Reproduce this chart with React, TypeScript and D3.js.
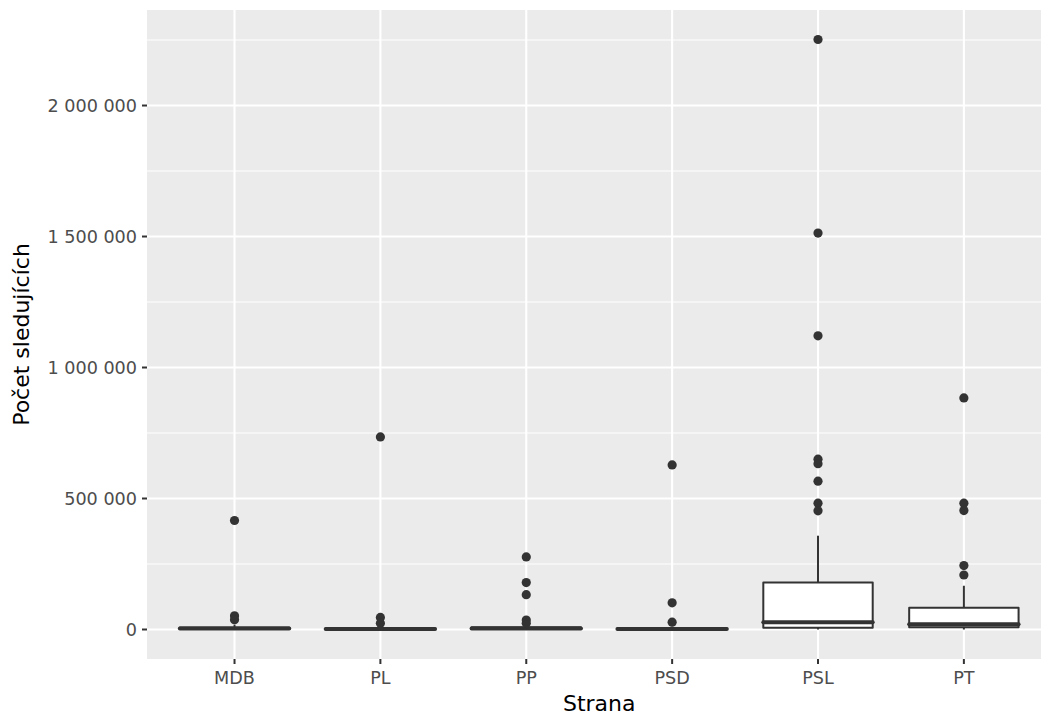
import React, { useEffect, useRef } from "react";
import * as d3 from "d3";

const categories = ["MDB", "PL", "PP", "PSD", "PSL", "PT"];
const whiskerLow = [0, 0, 0, 0, 0, 0];
const q1 = [1500, 500, 1500, 600, 7000, 9000];
const median = [3500, 1500, 4000, 1800, 28000, 20000];
const q3 = [8000, 4000, 9000, 5000, 179000, 83000];
const whiskerHigh = [18000, 9000, 20000, 11000, 358000, 167000];
const outliers: number[][] = [
  [416000, 52000, 37000],
  [735000, 46000, 24000],
  [277000, 179000, 133000, 36000, 24000],
  [628000, 102000, 28000],
  [2252000, 1513000, 1121000, 650000, 633000, 566000, 482000, 453000],
  [884000, 482000, 454000, 244000, 208000],
];
const yMajorTicks = [0, 500000, 1000000, 1500000, 2000000];
const yMinorTicks = [250000, 750000, 1250000, 1750000, 2250000];
const xTitle = "Strana";
const yTitle = "Počet sledujících";

const W = 1041;
const H = 718;
const panel = { left: 147, right: 1051.4, top: 10, bottom: 659 };
const dark = "#333333";
const font = "DejaVu Sans, sans-serif";

export default function App() {
  const ref = useRef<SVGSVGElement>(null);

  useEffect(() => {
    document.body.style.margin = "0";
    const svg = d3.select(ref.current);
    svg.selectAll("*").remove();

    const allVals = [...whiskerLow, ...whiskerHigh, ...outliers.flat()];
    const mn = d3.min(allVals) as number;
    const mx = d3.max(allVals) as number;
    const pad = (mx - mn) * 0.05;

    const x = d3
      .scalePoint<string>()
      .domain(categories)
      .range([panel.left, panel.right])
      .padding(0.6);
    const step = x.step();
    const y = d3
      .scaleLinear()
      .domain([mn - pad, mx + pad])
      .range([panel.bottom, panel.top]);

    const fmt = d3
      .formatLocale({ thousands: " ", grouping: [3], decimal: ",", currency: ["", ""] })
      .format(",");

    svg
      .append("rect")
      .attr("x", panel.left)
      .attr("y", panel.top)
      .attr("width", panel.right - panel.left)
      .attr("height", panel.bottom - panel.top)
      .attr("fill", "#EBEBEB");

    const g = svg.append("g");
    g.selectAll("line.minor")
      .data(yMinorTicks)
      .join("line")
      .attr("x1", panel.left)
      .attr("x2", panel.right)
      .attr("y1", (d) => y(d))
      .attr("y2", (d) => y(d))
      .attr("stroke", "white")
      .attr("stroke-width", 1.1);
    g.selectAll("line.majy")
      .data(yMajorTicks)
      .join("line")
      .attr("x1", panel.left)
      .attr("x2", panel.right)
      .attr("y1", (d) => y(d))
      .attr("y2", (d) => y(d))
      .attr("stroke", "white")
      .attr("stroke-width", 2.1);
    g.selectAll("line.majx")
      .data(categories)
      .join("line")
      .attr("x1", (d) => x(d)!)
      .attr("x2", (d) => x(d)!)
      .attr("y1", panel.top)
      .attr("y2", panel.bottom)
      .attr("stroke", "white")
      .attr("stroke-width", 2.1);

    const bw = step * 0.75;
    const boxes = svg.append("g");
    categories.forEach((c, i) => {
      const cx = x(c)!;
      boxes
        .append("line")
        .attr("x1", cx)
        .attr("x2", cx)
        .attr("y1", y(q3[i]))
        .attr("y2", y(whiskerHigh[i]))
        .attr("stroke", dark)
        .attr("stroke-width", 2);
      boxes
        .append("line")
        .attr("x1", cx)
        .attr("x2", cx)
        .attr("y1", y(q1[i]))
        .attr("y2", y(whiskerLow[i]))
        .attr("stroke", dark)
        .attr("stroke-width", 2);
      boxes
        .append("rect")
        .attr("x", cx - bw / 2)
        .attr("y", y(q3[i]))
        .attr("width", bw)
        .attr("height", Math.max(0, y(q1[i]) - y(q3[i])))
        .attr("fill", "white")
        .attr("stroke", dark)
        .attr("stroke-width", 2)
        .attr("stroke-linejoin", "round");
      boxes
        .append("line")
        .attr("x1", cx - bw / 2)
        .attr("x2", cx + bw / 2)
        .attr("y1", y(median[i]))
        .attr("y2", y(median[i]))
        .attr("stroke", dark)
        .attr("stroke-width", 4)
        .attr("stroke-linecap", "round");
      boxes
        .selectAll(null)
        .data(outliers[i])
        .join("circle")
        .attr("cx", cx)
        .attr("cy", (d) => y(d))
        .attr("r", 4.6)
        .attr("fill", dark);
    });

    // axes ticks
    const ax = svg.append("g");
    ax.selectAll("line.yt")
      .data(yMajorTicks)
      .join("line")
      .attr("x1", panel.left - 5)
      .attr("x2", panel.left)
      .attr("y1", (d) => y(d))
      .attr("y2", (d) => y(d))
      .attr("stroke", dark)
      .attr("stroke-width", 2);
    ax.selectAll("text.yl")
      .data(yMajorTicks)
      .join("text")
      .attr("x", panel.left - 10)
      .attr("y", (d) => y(d))
      .attr("dy", "0.36em")
      .attr("text-anchor", "end")
      .attr("font-family", font)
      .attr("font-size", 17.6)
      .attr("fill", "#4D4D4D")
      .text((d) => fmt(d));
    ax.selectAll("line.xt")
      .data(categories)
      .join("line")
      .attr("x1", (d) => x(d)!)
      .attr("x2", (d) => x(d)!)
      .attr("y1", panel.bottom)
      .attr("y2", panel.bottom + 5)
      .attr("stroke", dark)
      .attr("stroke-width", 2);
    ax.selectAll("text.xl")
      .data(categories)
      .join("text")
      .attr("x", (d) => x(d)!)
      .attr("y", panel.bottom + 25)
      .attr("text-anchor", "middle")
      .attr("font-family", font)
      .attr("font-size", 17.6)
      .attr("fill", "#4D4D4D")
      .text((d) => d);

    svg
      .append("text")
      .attr("x", (panel.left + panel.right) / 2)
      .attr("y", 711)
      .attr("text-anchor", "middle")
      .attr("font-family", font)
      .attr("font-size", 22)
      .attr("fill", "black")
      .text(xTitle);
    svg
      .append("text")
      .attr("transform", `translate(29,${(panel.top + panel.bottom) / 2}) rotate(-90)`)
      .attr("text-anchor", "middle")
      .attr("font-family", font)
      .attr("font-size", 22)
      .attr("fill", "black")
      .text(yTitle);
  }, []);

  return (
    <svg
      ref={ref}
      width={W}
      height={H}
      style={{ position: "absolute", left: 0, top: 0, background: "white" }}
    />
  );
}
